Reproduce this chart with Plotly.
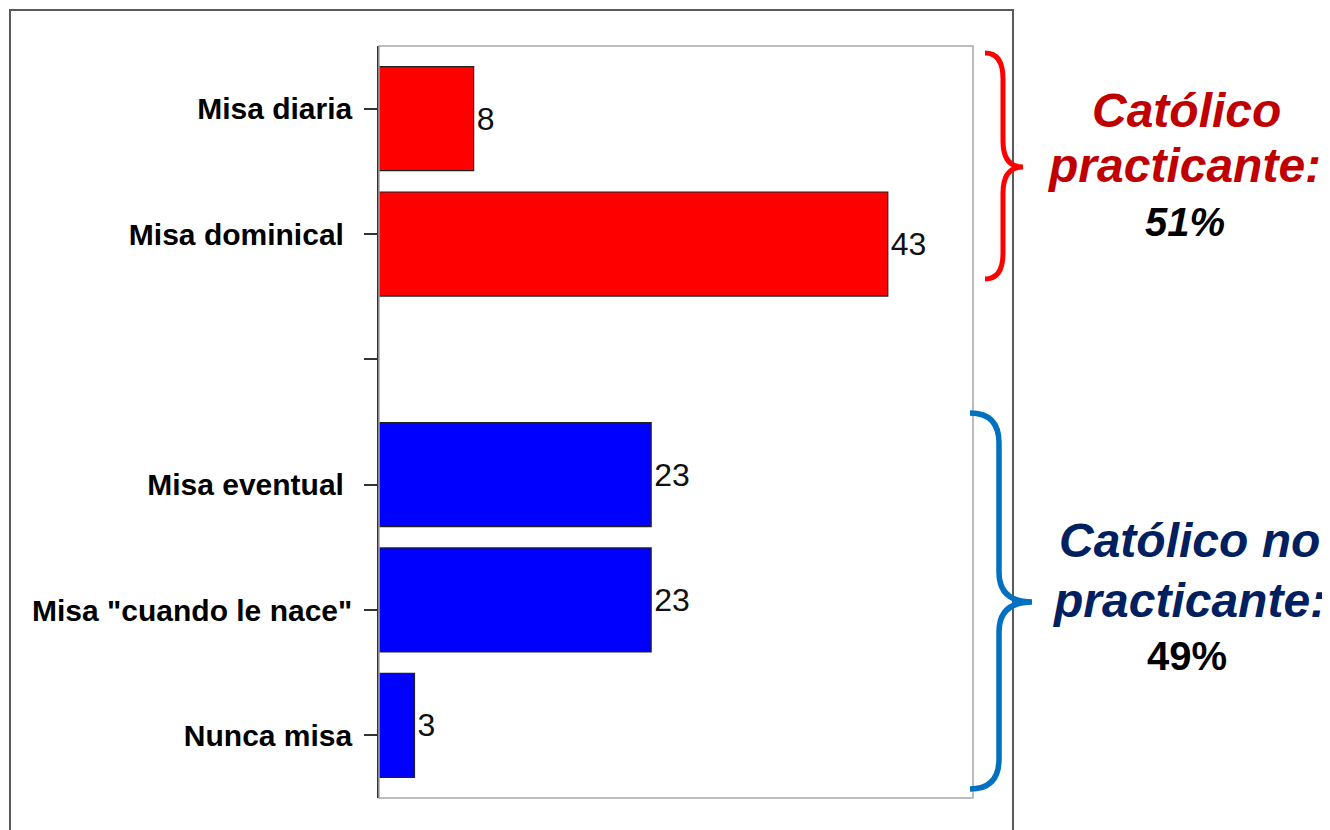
import plotly.graph_objects as go

categories = ["Misa diaria", "Misa dominical\u00a0", "\u00a0", "Misa eventual\u00a0",
              'Misa "cuando le nace"', "Nunca misa"]
practicante_cats = ["Misa diaria", "Misa dominical\u00a0"]
practicante_vals = [8, 43]
no_practicante_cats = ["Misa eventual\u00a0", 'Misa "cuando le nace"', "Nunca misa"]
no_practicante_vals = [23, 23, 3]

group_titles = [["Católico", "practicante:"], ["Católico no", "practicante:"]]
group_pcts = ["51%", "49%"]

OFF = 8  # page body margin
W, H = 1330 - OFF, 830 - OFF
L, R, T, B = 379, 973, 46, 798  # plot area in screen pixels


def px(x):
    return (x - L) / (R - L)


def py(y):
    return (B - y) / (B - T)


BAR_W = 0.83
SHIFT = 0.08
value_font = dict(family="Liberation Sans Narrow, Arial Narrow, Liberation Sans, Arial",
                  size=32, color="#111111")

fig = go.Figure()
fig.add_trace(go.Bar(
    y=practicante_cats, x=practicante_vals, orientation="h",
    marker=dict(color="#FF0000", line=dict(color="#222222", width=1.2)),
    width=BAR_W, offset=-BAR_W / 2 + SHIFT,
    text=[str(v) for v in practicante_vals], textposition="outside", cliponaxis=False,
    textfont=value_font, hoverinfo="skip",
))
fig.add_trace(go.Bar(
    y=no_practicante_cats, x=no_practicante_vals, orientation="h",
    marker=dict(color="#0000FF", line=dict(color="#222222", width=1.2)),
    width=BAR_W, offset=-BAR_W / 2 - SHIFT,
    text=[str(v) for v in no_practicante_vals], textposition="outside", cliponaxis=False,
    textfont=value_font, hoverinfo="skip",
))


def brace(x0, y0, y1, xs, xt, ym, r):
    pts = [
        f"M {px(x0)},{py(y0)}",
        f"Q {px(xs)},{py(y0)} {px(xs)},{py(y0 + r)}",
        f"L {px(xs)},{py(ym - r)}",
        f"Q {px(xs)},{py(ym)} {px(xt)},{py(ym)}",
        f"Q {px(xs)},{py(ym)} {px(xs)},{py(ym + r)}",
        f"L {px(xs)},{py(y1 - r)}",
        f"Q {px(xs)},{py(y1)} {px(x0)},{py(y1)}",
    ]
    return " ".join(pts)


shapes = [
    # outer frame
    dict(type="rect", xref="paper", yref="paper", x0=px(10), y0=py(10), x1=px(1013), y1=py(845),
         line=dict(color="#5a5a5a", width=2), fillcolor="rgba(0,0,0,0)", layer="below"),
    # plot frame
    dict(type="rect", xref="paper", yref="paper", x0=0, y0=0, x1=1, y1=1,
         line=dict(color="#a6a6a6", width=1.5), fillcolor="rgba(0,0,0,0)", layer="above"),
    # braces
    dict(type="path", xref="paper", yref="paper",
         path=brace(985, 53, 279, 1003, 1023, 167, 26),
         line=dict(color="#FF0000", width=5)),
    dict(type="path", xref="paper", yref="paper",
         path=brace(970, 413, 789, 999, 1032, 602, 30),
         line=dict(color="#0070C0", width=5.5)),
]

ann = []
bold_it = "<b><i>{}</i></b>"
ann.append(dict(text=bold_it.format(group_titles[0][0]), x=px(1186), y=py(110),
                font=dict(family="Liberation Sans, Arial", size=48, color="#C00000")))
ann.append(dict(text=bold_it.format(group_titles[0][1]), x=px(1184), y=py(166),
                font=dict(family="Liberation Sans, Arial", size=48, color="#C00000")))
ann.append(dict(text=bold_it.format(group_pcts[0]), x=px(1185), y=py(222),
                font=dict(family="Liberation Sans, Arial", size=40, color="#000000")))
ann.append(dict(text=bold_it.format(group_titles[1][0]), x=px(1189), y=py(540),
                font=dict(family="Liberation Sans, Arial", size=48, color="#002060")))
ann.append(dict(text=bold_it.format(group_titles[1][1]), x=px(1189), y=py(600),
                font=dict(family="Liberation Sans, Arial", size=48, color="#002060")))
ann.append(dict(text="<b>{}</b>".format(group_pcts[1]), x=px(1187), y=py(656),
                font=dict(family="Liberation Sans, Arial", size=40, color="#000000")))
for a in ann:
    a.update(xref="paper", yref="paper", showarrow=False, xanchor="center", yanchor="middle")

fig.update_layout(
    width=W, height=H,
    margin=dict(l=L - OFF, r=W - (R - OFF), t=T - OFF, b=H - (B - OFF), pad=0),
    paper_bgcolor="white", plot_bgcolor="white",
    showlegend=False, barmode="overlay",
    shapes=shapes, annotations=ann,
)
fig.update_xaxes(range=[0, 50.2], showticklabels=False, ticks="", showgrid=False,
                 zeroline=False, showline=False)
fig.update_yaxes(type="category", categoryorder="array", categoryarray=categories,
                 range=[len(categories) - 0.5, -0.5], showgrid=False, zeroline=False,
                 showline=True, linecolor="#333333", linewidth=1.5,
                 ticks="outside", ticklen=13, tickcolor="#333333", tickwidth=1.5,
                 tickfont=dict(family="Liberation Sans, Arial", size=30, color="#000000"),
                 ticklabelstandoff=6,
                 tickvals=categories, ticktext=[f"<b>{c}</b>" for c in categories])

fig.write_html("out.html")
